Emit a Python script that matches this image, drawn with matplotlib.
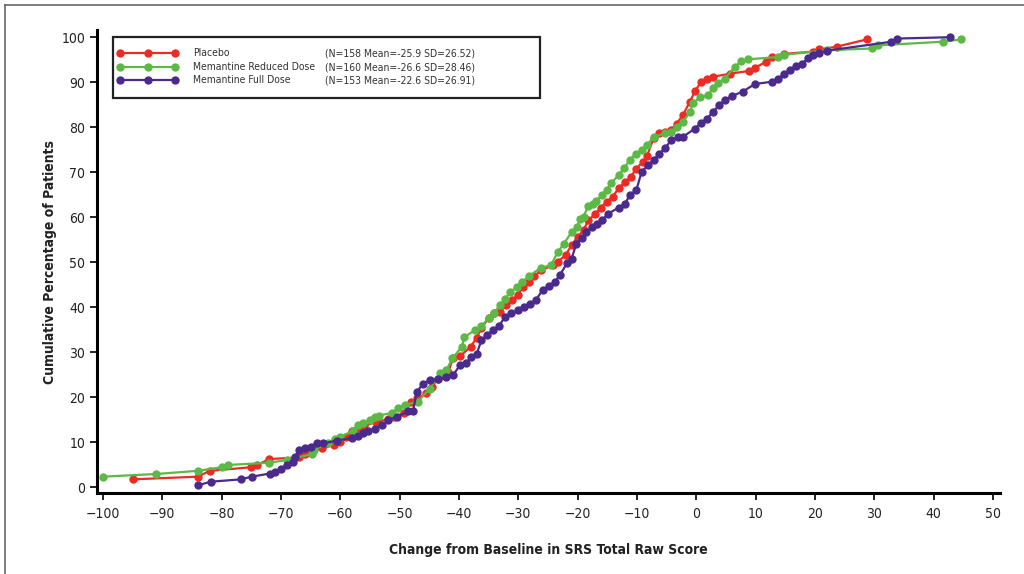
import matplotlib
matplotlib.use("Agg")
import matplotlib.pyplot as plt
from matplotlib.lines import Line2D
from matplotlib.patches import Rectangle

plt.rcParams["font.family"] = ["DejaVu Sans"]
plt.rcParams["font.stretch"] = "condensed"

# ── Data ─────────────────────────────────────────────────────────────────────
placebo_x = [-95, -84, -82, -75, -74, -72, -67, -66, -65, -63, -61, -60, -59, -58,
             -57, -56, -54, -52, -51, -49.3, -48, -47, -45.5, -44.6, -43.5, -42.1,
             -41.8, -41, -39.8, -38, -37, -36.2, -35, -34.1, -33.1, -32.1, -31, -30.1,
             -29.2, -28.2, -27.3, -26.1, -24.2, -23.3, -22, -21, -20, -19, -18.2,
             -17.1, -16.1, -15.1, -14.1, -13.1, -12, -11, -10.1, -9, -8.3, -7.2,
             -6.2, -5.3, -4.3, -3.3, -2.2, -1.1, -0.2, 0.8, 1.75, 2.8, 5.7, 8.9,
             9.9, 11.7, 12.7, 14.8, 19.7, 20.7, 23.7, 28.7]
placebo_y = [1.7, 2.3, 3.6, 4.4, 4.9, 6.2, 6.6, 7.3, 8.0, 8.6, 9.4, 10.1, 11.2, 12.5,
             13.2, 13.6, 14.4, 15.1, 15.5, 16.5, 19.0, 19.7, 20.8, 22.3, 24.1, 25.3,
             25.6, 28.6, 29.1, 31.2, 33.2, 35.4, 37.5, 38.6, 39.0, 40.4, 41.6, 42.7,
             44.5, 45.6, 46.9, 48.2, 49.3, 50.1, 51.6, 53.8, 55.6, 57.1, 59.3,
             60.6, 62.1, 63.4, 64.5, 66.4, 67.8, 69.0, 70.8, 72.3, 73.6, 77.5,
             78.6, 79.0, 79.3, 80.8, 82.8, 85.6, 88.0, 90.1, 90.7, 91.2, 91.9, 92.5,
             93.2, 94.5, 95.6, 96.3, 96.8, 97.3, 97.9, 99.5]

reduced_x = [-100, -91, -84, -80, -79, -72, -69, -64.8, -64.5, -62, -60.9, -60, -57.8,
             -57, -56.1, -55, -54.2, -53.4, -51.3, -50.2, -49.1, -46.9, -44.9, -43.2,
             -42.1, -41.1, -39.5, -39.1, -37.3, -36.2, -35, -34.1, -33.1, -32.2, -31.4,
             -30.2, -29.3, -28.2, -26.1, -24.5, -23.3, -22.3, -21, -20.1, -19.6, -19,
             -18.2, -17.4, -16.9, -15.9, -15.1, -14.3, -13.1, -12.1, -11.2, -10.2,
             -9.2, -8.3, -7.2, -5.3, -4.3, -3.3, -2.2, -1.1, -0.5, 0.6, 2.0, 2.8,
             3.7, 4.8, 6.5, 7.6, 8.8, 13.8, 14.8, 22.1, 29.6, 30.7, 41.6, 44.6]
reduced_y = [2.3, 2.9, 3.6, 4.4, 4.9, 5.4, 6.0, 7.3, 8.2, 9.8, 10.7, 11.2, 12.5,
             13.8, 14.3, 14.8, 15.6, 15.9, 16.5, 17.5, 18.2, 19.0, 21.9, 25.3,
             26.0, 28.6, 31.2, 33.3, 34.9, 35.8, 37.5, 38.6, 40.5, 41.9, 43.3,
             44.5, 45.6, 46.9, 48.8, 49.3, 52.3, 54.1, 56.7, 57.8, 59.5, 60.1,
             62.5, 62.9, 63.6, 64.9, 66.0, 67.6, 69.3, 71.0, 72.7, 74.1,
             74.9, 76.0, 77.8, 78.6, 79.0, 80.1, 81.2, 83.4, 85.3, 86.7, 87.1, 88.7,
             89.9, 90.8, 93.4, 94.7, 95.1, 95.6, 96.1, 97.1, 97.5, 98.2, 99.0, 99.5]

full_x = [-84, -81.7, -76.8, -74.9, -71.9, -71, -70, -69, -67.9, -67.6, -67, -66, -65,
          -64, -62.9, -60.6, -58.1, -57, -56.1, -55.3, -54.2, -53, -51.9, -50.5, -48.5,
          -47.7, -47.1, -46, -44.9, -43.5, -42.1, -41, -39.8, -38.8, -37.9, -37, -36.2,
          -35.3, -34.2, -33.3, -32.2, -31.2, -30, -29, -28, -27, -25.9, -24.8, -23.8,
          -23, -21.8, -21, -20.2, -19.3, -18.5, -17.6, -16.8, -15.9, -14.8, -13.1, -12,
          -11.2, -10.1, -9.2, -8.1, -7.2, -6.2, -5.3, -4.2, -3, -2.2, -0.2, 0.8, 1.75,
          2.8, 3.9, 4.8, 6.0, 7.8, 9.9, 12.7, 13.8, 14.8, 15.8, 16.8, 17.8, 18.8, 19.7,
          20.7, 22.0, 32.9, 33.8, 42.7]
full_y = [0.4, 1.2, 1.7, 2.3, 3.0, 3.4, 4.1, 4.9, 5.6, 6.7, 8.2, 8.6, 9.0,
          9.7, 9.7, 10.3, 10.9, 11.4, 12.0, 12.5, 12.9, 13.7, 14.9, 15.6, 16.8,
          17.0, 21.2, 23.0, 23.8, 24.0, 24.5, 24.9, 27.1, 27.5, 29.0, 29.6, 32.7,
          33.8, 34.9, 35.8, 37.8, 38.6, 39.3, 40.0, 40.8, 41.6, 43.8, 44.7, 45.6,
          47.1, 49.7, 50.8, 54.1, 55.3, 56.7, 57.8, 58.5, 59.3, 60.8, 62.1, 63.0,
          64.9, 66.0, 70.1, 71.6, 72.7, 74.1, 75.3, 77.1, 77.8, 77.9, 79.7, 81.0, 81.8,
          83.4, 84.9, 86.1, 86.9, 87.9, 89.6, 90.1, 90.8, 91.8, 92.8, 93.6, 94.1, 95.3, 96.0,
          96.4, 97.0, 99.0, 99.7, 100.0]

names = ["Placebo", "Memantine Reduced Dose", "Memantine Full Dose"]
stats = ["(N=158 Mean=-25.9 SD=26.52)",
         "(N=160 Mean=-26.6 SD=28.46)",
         "(N=153 Mean=-22.6 SD=26.91)"]
colors = ["#ee2a24", "#5cb946", "#4a2a8c"]
x_ticks = list(range(-100, 51, 10))
y_ticks = list(range(0, 101, 10))

# ── Figure ───────────────────────────────────────────────────────────────────
fig = plt.figure(figsize=(10.24, 5.74), dpi=100)
ax = fig.add_axes([0.0947, 0.1411, 0.8819, 0.8066])

series = [(placebo_x, placebo_y), (reduced_x, reduced_y), (full_x, full_y)]
for (xs, ys), c in zip(series, colors):
    ax.plot(xs, ys, color=c, lw=1.6, marker="o", ms=5, mec=c, mfc=c, zorder=3)

ax.set_xlim(-101.0, 51.2)
ax.set_ylim(-1.33, 101.6)
ax.set_xticks(x_ticks)
ax.set_yticks(y_ticks)
for s in ("top", "right"):
    ax.spines[s].set_visible(False)
for s in ("left", "bottom"):
    ax.spines[s].set_linewidth(2.2)
ax.tick_params(direction="out", length=5, width=1.4, labelsize=10, colors="#222222")
ax.tick_params(axis="x", pad=5)
ax.set_xlabel("Change from Baseline in SRS Total Raw Score", fontsize=10,
              fontweight="bold", color="#222222", labelpad=16)
ax.set_ylabel("Cumulative Percentage of Patients", fontsize=10,
              fontweight="bold", color="#222222", labelpad=3)

# ── Legend box (drawn by hand: name column + stats column) ──────────────────
ax.add_patch(Rectangle((0.0177, 0.853), 0.4729, 0.132, transform=ax.transAxes,
                       fill=True, fc="white", ec="#222222", lw=1.6, zorder=5))
rows = [0.950, 0.920, 0.891]
for yy, c, n, st in zip(rows, colors, names, stats):
    ax.add_line(Line2D([0.0255, 0.0864], [yy, yy], transform=ax.transAxes,
                       color=c, lw=1.6, zorder=6))
    ax.add_line(Line2D([0.0255, 0.0560, 0.0864], [yy] * 3, transform=ax.transAxes,
                       color=c, lw=0, marker="o", ms=5, zorder=6))
    ax.text(0.106, yy, n, transform=ax.transAxes, va="center", ha="left",
            fontsize=7.5, color="#333333", zorder=7)
    ax.text(0.2530, yy, st, transform=ax.transAxes, va="center", ha="left",
            fontsize=7.5, color="#333333", zorder=7)

# outer frame of the original figure (top and left edges)
fig.add_artist(Line2D([5 / 1024, 1.0], [1 - 5 / 574] * 2, color="#666666", lw=1.2))
fig.add_artist(Line2D([5 / 1024] * 2, [0.0, 1 - 5 / 574], color="#666666", lw=1.2))

fig.savefig("out.png", dpi=100)
